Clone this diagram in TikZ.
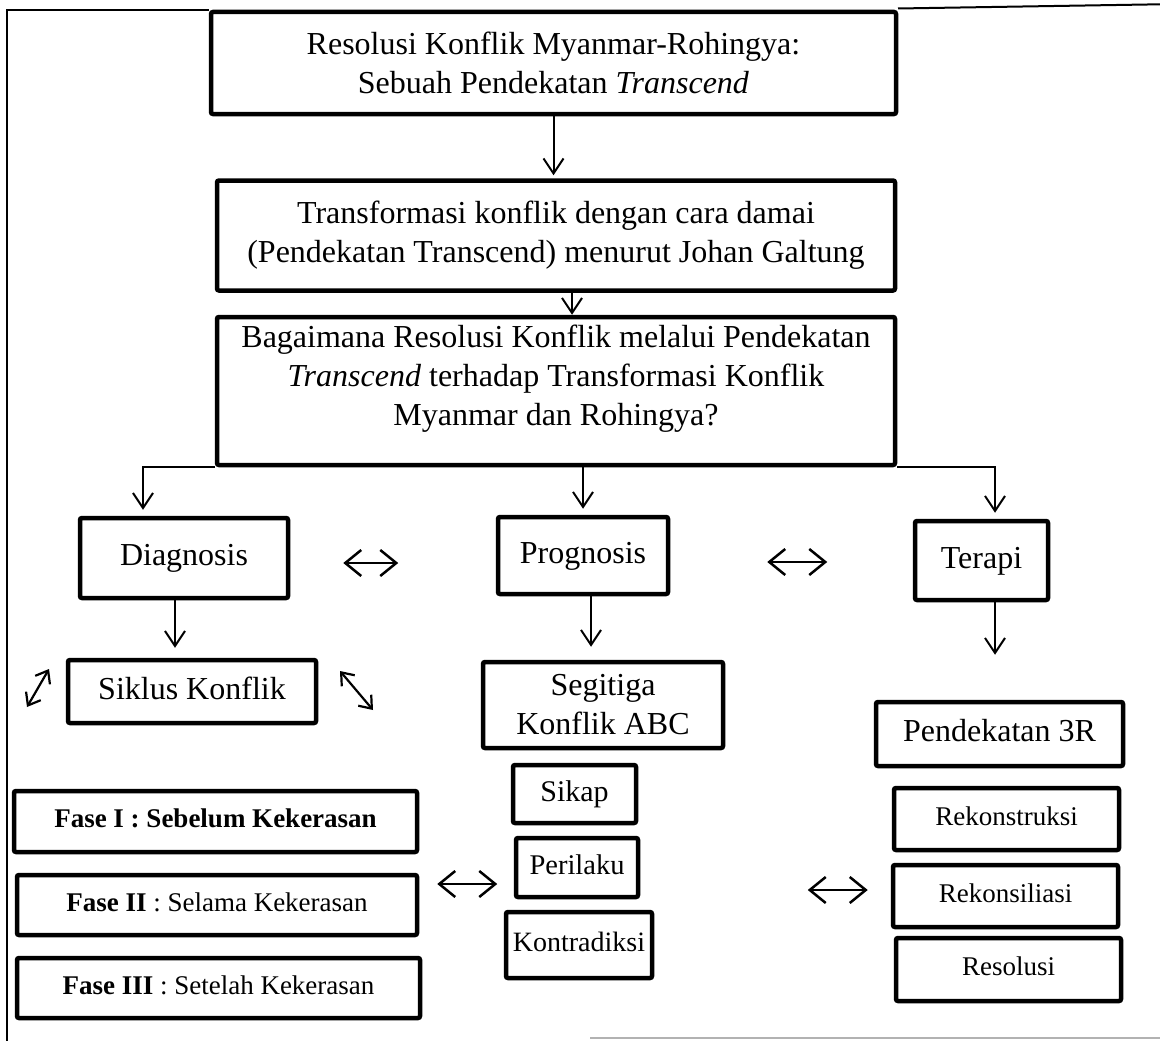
\documentclass[tikz,border=0pt]{standalone}
\usepackage{fontspec}
\setmainfont{Liberation Serif}
\usetikzlibrary{arrows.meta}
\tikzset{
  every picture/.style={x=1pt, y=-1pt},
  box/.style={draw, line width=4.5pt, rounded corners=2pt, align=center, inner sep=0pt, font=\fontsize{32}{39}\selectfont},
  onebox/.style={box, text height=22pt, text depth=7pt},
  smallbox/.style={box, font=\fontsize{27}{33}\selectfont, text height=18.5pt, text depth=6pt},
  midbox/.style={box, font=\fontsize{28.5}{34}\selectfont, text height=19.5pt, text depth=6.5pt},
  arrow/.style={-{Straight Barb[length=15pt, width=20pt]}, line width=2pt},
  dblarrow/.style={{Straight Barb[length=16pt, width=26pt]}-{Straight Barb[length=16pt, width=26pt]}, line width=2.5pt},
  diagarrow/.style={{Straight Barb[length=11pt, width=17pt]}-{Straight Barb[length=11pt, width=17pt]}, line width=2.2pt},
  frame/.style={line width=2pt},
}
\begin{document}
\begin{tikzpicture}
\useasboundingbox (0,0) rectangle (1160,1041);
% frame
\draw[frame] (7,1041) -- (7,10.5) -- (209,10.5);
\draw[frame] (898,8.5) -- (1160,4.3);
\draw[frame, gray!60] (590,1038) -- (1160,1038);

% top chain
\node[box, minimum width=685pt, minimum height=102pt] (title) at (553.5,63) {Resolusi Konflik Myanmar-Rohingya:\\ Sebuah Pendekatan \textit{Transcend}};
\node[box, minimum width=678pt, minimum height=110pt] (trans) at (556,235.5) {Transformasi konflik dengan cara damai\\ (Pendekatan Transcend) menurut Johan Galtung};
\node[box, minimum width=678pt, minimum height=148pt] (quest) at (556,391) {Bagaimana Resolusi Konflik melalui Pendekatan\\ \textit{Transcend} terhadap Transformasi Konflik\\ Myanmar dan Rohingya?\rule[-31pt]{0pt}{1pt}};

% three branches
\node[onebox, minimum width=208pt, minimum height=80pt] (diag) at (184,558) {Diagnosis};
\node[onebox, minimum width=170pt, minimum height=77pt] (prog) at (583,555.5) {Prognosis};
\node[onebox, minimum width=133pt, minimum height=79pt] (ter) at (981.5,560.5) {Terapi};

\node[onebox, minimum width=248pt, minimum height=63pt] (siklus) at (192,691.5) {Siklus Konflik};
\node[box, minimum width=240pt, minimum height=86pt] (segi) at (603,705) {Segitiga\\ Konflik ABC};
\node[onebox, minimum width=247pt, minimum height=64pt] (pend) at (999.5,734) {Pendekatan 3R};

% lower boxes
\node[smallbox, minimum width=403pt, minimum height=61pt] (fase1) at (215.5,821.5) {\textbf{Fase I : Sebelum Kekerasan}};
\node[smallbox, minimum width=400pt, minimum height=60pt] (fase2) at (217,905) {\textbf{Fase II} : Selama Kekerasan};
\node[smallbox, minimum width=403pt, minimum height=60pt] (fase3) at (218.5,988) {\textbf{Fase III} : Setelah Kekerasan};

\node[onebox, font=\fontsize{30}{36}\selectfont, text height=20.5pt, text depth=6.5pt, minimum width=123pt, minimum height=58pt] (sikap) at (574.5,794) {Sikap};
\node[midbox, minimum width=122pt, minimum height=59pt] (peri) at (577,867.5) {Perilaku};
\node[midbox, font=\fontsize{28}{34}\selectfont, minimum width=146pt, minimum height=66pt] (kontra) at (579,945) {Kontradiksi};

\node[smallbox, minimum width=225pt, minimum height=62pt] (rekon) at (1006.5,819) {Rekonstruksi};
\node[smallbox, minimum width=225pt, minimum height=62pt] (rekons) at (1005.5,896) {Rekonsiliasi};
\node[smallbox, minimum width=225pt, minimum height=63pt] (reso) at (1008.5,969.5) {Resolusi};

% arrows
\draw[arrow, shorten >=3pt] (title.south) -- (title.south |- trans.north);
\draw[arrow] ([xshift=16pt]trans.south) -- ([xshift=16pt]trans.south |- quest.north);
\draw[arrow, shorten >=6pt] (quest.south west) -| ([xshift=-41pt]diag.north);
\draw[arrow, shorten >=6pt] (quest.south -| prog.north) -- (prog.north);
\draw[arrow, shorten >=6pt] (quest.south east) -| ([xshift=13.5pt]ter.north);
\draw[arrow, shorten >=10pt] ([xshift=-9pt]diag.south) -- ([xshift=-9pt]diag.south |- siklus.north);
\draw[arrow, shorten >=13pt] ([xshift=8pt]prog.south) -- ([xshift=8pt]prog.south |- segi.north);
\draw[arrow, shorten >=45pt] ([xshift=13.5pt]ter.south) -- ([xshift=13.5pt]ter.south |- pend.north);

\draw[dblarrow] ([shift={(53,5)}]diag.east) -- ([shift={(108,5)}]diag.east);
\draw[dblarrow] ([shift={(97,6.5)}]prog.east) -- ([shift={(157,6.5)}]prog.east);
\draw[dblarrow] ([shift={(18,-21)}]fase2.east) -- ([shift={(78,-21)}]fase2.east);
\draw[dblarrow] ([shift={(-83,-6)}]rekons.west) -- ([shift={(-23,-6)}]rekons.west);

\draw[diagarrow] ([shift={(-38.75,15.5)}]siklus.west) -- ([shift={(-16.75,-22.5)}]siklus.west);
\draw[diagarrow] ([shift={(21.75,-20.5)}]siklus.east) -- ([shift={(54.75,18.5)}]siklus.east);
\end{tikzpicture}
\end{document}
